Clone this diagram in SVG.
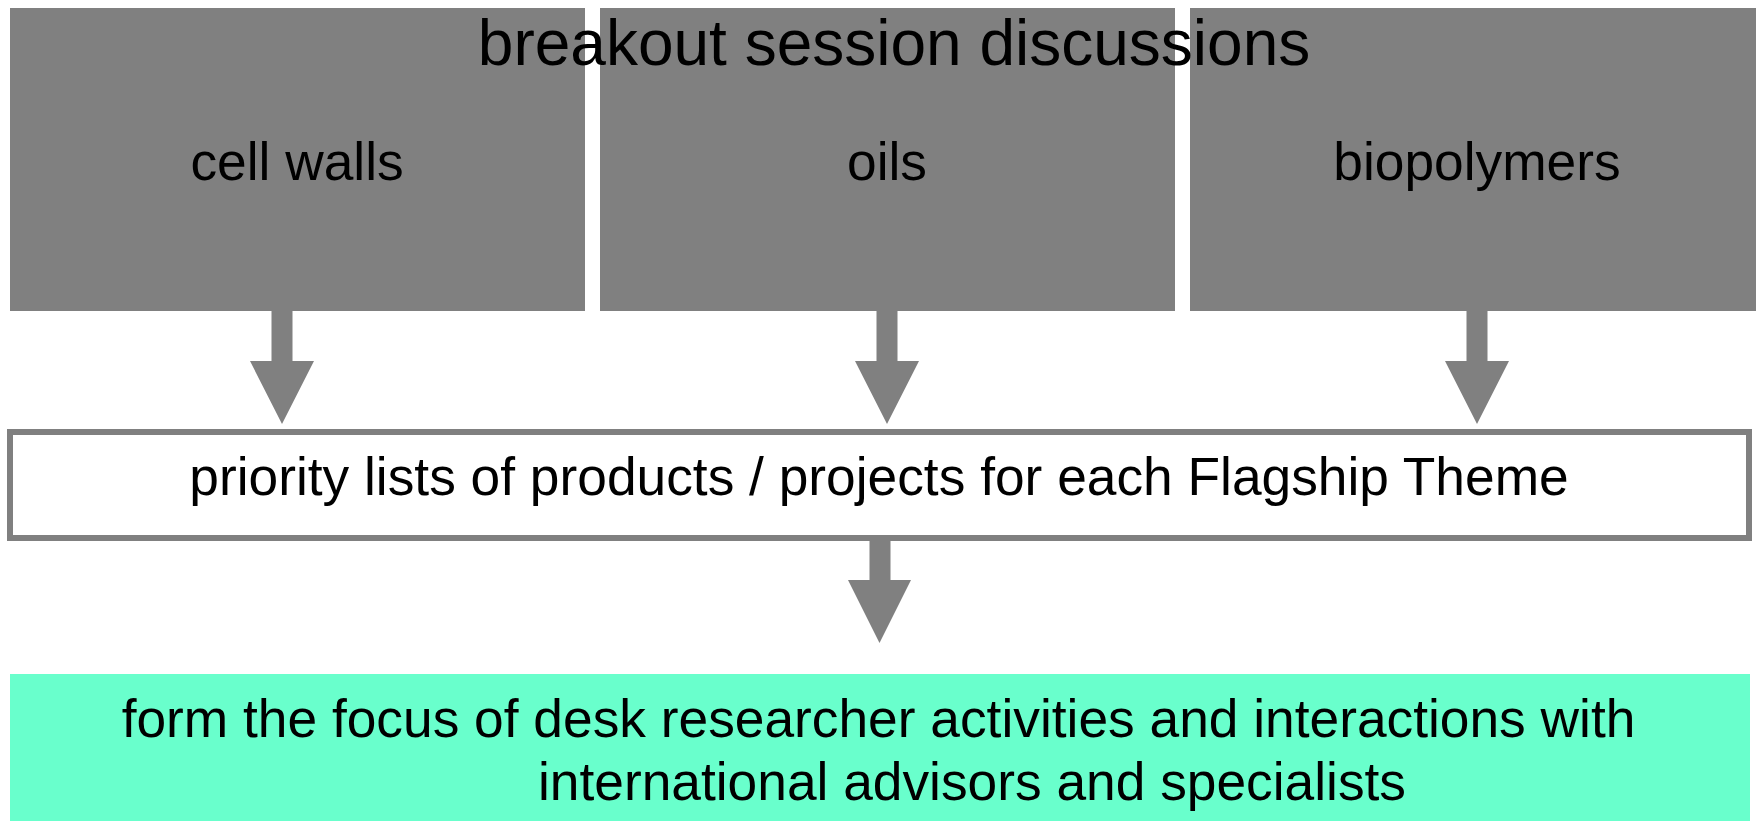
<svg xmlns="http://www.w3.org/2000/svg" width="1756" height="821" viewBox="0 0 1756 821">
  <style>
    .box { fill: #808080; stroke: none; }
    .prio { fill: #ffffff; stroke: #808080; stroke-width: 6; }
    .focus { fill: #69FFCC; stroke: none; }
    .arrow { fill: #808080; stroke: none; }
    text { font-family: "Liberation Sans", Arial, sans-serif; fill: #000000; text-anchor: middle; }
    .lbl { font-size: 53.3px; }
    .title { font-size: 64px; }
  </style>
  <rect width="1756" height="821" fill="#ffffff"/>
  <g id="node-cell-walls">
    <rect class="box" x="10" y="8" width="575" height="303"/>
    <text class="lbl" x="297" y="180">cell walls</text>
  </g>
  <g id="node-oils">
    <rect class="box" x="600" y="8" width="575" height="303"/>
    <text class="lbl" x="887" y="180">oils</text>
  </g>
  <g id="node-biopolymers">
    <rect class="box" x="1190" y="8" width="570" height="303"/>
    <text class="lbl" x="1477" y="180">biopolymers</text>
  </g>
  <g id="title">
    <text class="title" x="894" y="65">breakout session discussions</text>
  </g>
  <g id="connectors">
    <polygon class="arrow" points="271.5,310 292.5,310 292.5,361 314,361 282,424 250,361 271.5,361"/>
    <polygon class="arrow" points="876.5,310 897.5,310 897.5,361 919,361 887,424 855,361 876.5,361"/>
    <polygon class="arrow" points="1466.5,310 1487.5,310 1487.5,361 1509,361 1477,424 1445,361 1466.5,361"/>
    <polygon class="arrow" points="869.5,541 890.5,541 890.5,580 911,580 879.5,643 848,580 869.5,580"/>
  </g>
  <g id="node-priority">
    <rect class="prio" x="10" y="432" width="1739" height="106"/>
    <text class="lbl" x="879" y="495">priority lists of products / projects for each Flagship Theme</text>
  </g>
  <g id="node-focus">
    <rect class="focus" x="10" y="674" width="1740" height="147"/>
    <text class="lbl" x="878.5" y="737">form the focus of desk researcher activities and interactions with</text>
    <text class="lbl" x="972" y="800">international advisors and specialists</text>
  </g>
</svg>
